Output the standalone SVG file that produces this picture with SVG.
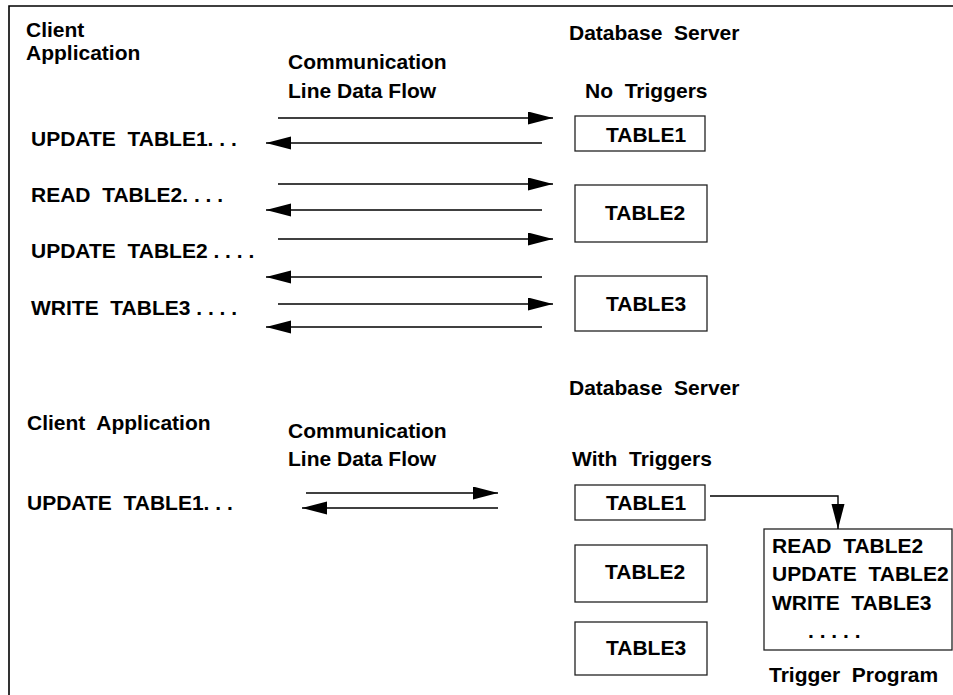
<svg xmlns="http://www.w3.org/2000/svg" width="953" height="695" viewBox="0 0 953 695" xml:space="preserve">
<style>
text{font-family:"Liberation Sans",Arial,sans-serif;font-weight:bold;font-size:21px;fill:#000;white-space:pre}
.box{fill:#fff;stroke:#222;stroke-width:1.3}
.ln{stroke:#000;stroke-width:1.4;fill:none}
</style>
<defs>
<marker id="ah" markerUnits="userSpaceOnUse" markerWidth="26" markerHeight="14" refX="25" refY="6.5" orient="auto">
<path d="M0,0 L25,6.5 L0,13 Z" fill="#000"/>
</marker>
</defs>
<rect width="953" height="695" fill="#fff"/>
<path d="M9,695 V6 H953" fill="none" stroke="#000" stroke-width="1.6"/>

<g id="top-labels">
<text x="26" y="37">Client</text>
<text x="26" y="60">Application</text>
<text x="288" y="69">Communication</text>
<text x="288" y="98">Line Data Flow</text>
<text x="569" y="40">Database  Server</text>
<text x="585" y="98">No  Triggers</text>
</g>
<g id="top-client">
<text x="31" y="146">UPDATE  TABLE1. . .</text>
<text x="31" y="202">READ  TABLE2. . . .</text>
<text x="31" y="258">UPDATE  TABLE2 . . . .</text>
<text x="31" y="315">WRITE  TABLE3 . . . .</text>
</g>
<g id="top-table1"><rect class="box" x="575" y="116" width="130" height="35"/><text x="606" y="142">TABLE1</text></g>
<g id="top-table2"><rect class="box" x="575" y="185" width="132" height="57"/><text x="605" y="220">TABLE2</text></g>
<g id="top-table3"><rect class="box" x="575" y="276" width="132" height="55"/><text x="606" y="311">TABLE3</text></g>

<g id="bottom-labels">
<text x="569" y="395">Database  Server</text>
<text x="27" y="430">Client  Application</text>
<text x="288" y="438">Communication</text>
<text x="288" y="466">Line Data Flow</text>
<text x="572" y="466">With  Triggers</text>
<text x="27" y="510">UPDATE  TABLE1. . .</text>
</g>
<g id="bottom-table1"><rect class="box" x="575" y="485" width="130" height="35"/><text x="606" y="510">TABLE1</text></g>
<g id="bottom-table2"><rect class="box" x="575" y="545" width="132" height="57"/><text x="605" y="579">TABLE2</text></g>
<g id="bottom-table3"><rect class="box" x="575" y="622" width="132" height="53"/><text x="606" y="655">TABLE3</text></g>
<g id="trigger-program">
<rect class="box" x="764" y="529" width="188" height="121"/>
<text x="772" y="553">READ  TABLE2</text>
<text x="772" y="581">UPDATE  TABLE2</text>
<text x="772" y="610">WRITE  TABLE3</text>
<text x="808" y="638">. . . . .</text>
<text x="769" y="682">Trigger  Program</text>
</g>

<g id="connectors" class="ln">
<line x1="278" y1="118" x2="553" y2="118" marker-end="url(#ah)"/>
<line x1="542" y1="143" x2="266" y2="143" marker-end="url(#ah)"/>
<line x1="278" y1="184" x2="553" y2="184" marker-end="url(#ah)"/>
<line x1="542" y1="210" x2="266" y2="210" marker-end="url(#ah)"/>
<line x1="278" y1="239" x2="553" y2="239" marker-end="url(#ah)"/>
<line x1="542" y1="277" x2="266" y2="277" marker-end="url(#ah)"/>
<line x1="278" y1="304" x2="553" y2="304" marker-end="url(#ah)"/>
<line x1="542" y1="327" x2="266" y2="327" marker-end="url(#ah)"/>
<line x1="306" y1="493" x2="498" y2="493" marker-end="url(#ah)"/>
<line x1="498" y1="508" x2="302" y2="508" marker-end="url(#ah)"/>
<path d="M710,496 H838 V529" marker-end="url(#ah)"/>
</g>
</svg>
